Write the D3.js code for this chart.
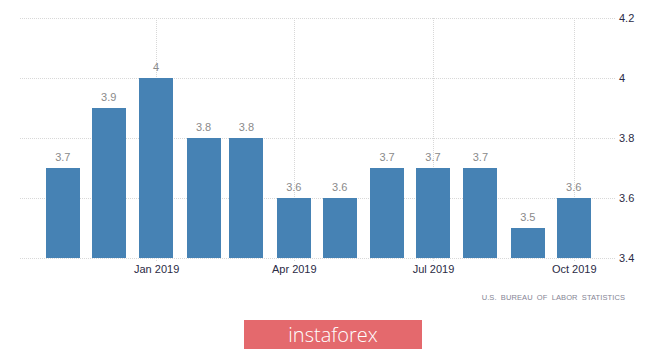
<!DOCTYPE html>
<html>
<head>
<meta charset="utf-8">
<script src="https://cdn.jsdelivr.net/npm/d3@7"></script>
<style>
  body { margin: 0; background: #fff; }
  svg { display: block; font-family: 'Liberation Sans', Arial, sans-serif; }
</style>
</head>
<body>
<svg></svg>
<script>
const [svgWidth, svgHeight] = [665, 351];

// data
const months = ['2018-11', '2018-12', '2019-01', '2019-02', '2019-03', '2019-04',
  '2019-05', '2019-06', '2019-07', '2019-08', '2019-09', '2019-10'];
const values = [3.7, 3.9, 4, 3.8, 3.8, 3.6, 3.6, 3.7, 3.7, 3.7, 3.5, 3.6];
const xTicks = ['2019-01', '2019-04', '2019-07', '2019-10'];
const yTicks = [3.4, 3.6, 3.8, 4, 4.2];

const parse = d3.timeParse('%Y-%m');
const data = months.map((m, i) => ({ date: parse(m), value: values[i] }));

const svg = d3.select('svg')
  .attr('width', svgWidth)
  .attr('height', svgHeight);

const plot = { left: 20, right: 615, top: 18, bottom: 258 };
const barWidth = 34;

const x = d3.scaleTime()
  .domain([new Date(2018, 9, 4), new Date(2019, 9, 28)])
  .range([plot.left, plot.right]);
const y = d3.scaleLinear()
  .domain([3.4, 4.2])
  .range([plot.bottom, plot.top]);

// grid
svg.append('g')
  .selectAll('line')
  .data(yTicks)
  .join('line')
  .attr('x1', plot.left)
  .attr('x2', plot.right)
  .attr('y1', d => y(d) + 0.5)
  .attr('y2', d => y(d) + 0.5)
  .attr('stroke', '#d8d8d8')
  .attr('stroke-dasharray', '1,1');

svg.append('g')
  .selectAll('line')
  .data(xTicks.map(parse))
  .join('line')
  .attr('x1', d => Math.round(x(d)) + 0.5)
  .attr('x2', d => Math.round(x(d)) + 0.5)
  .attr('y1', plot.top)
  .attr('y2', plot.bottom + 4)
  .attr('stroke', '#d8d8d8')
  .attr('stroke-dasharray', '1,1');

// bars
svg.append('g')
  .selectAll('rect')
  .data(data)
  .join('rect')
  .attr('x', d => Math.round(x(d.date) - barWidth / 2))
  .attr('y', d => y(d.value))
  .attr('width', barWidth)
  .attr('height', d => y(3.4) - y(d.value))
  .attr('fill', '#4682b4');

svg.append('g')
  .selectAll('text')
  .data(data)
  .join('text')
  .attr('x', d => x(d.date))
  .attr('y', d => y(d.value) - 7)
  .attr('text-anchor', 'middle')
  .attr('font-size', 11)
  .attr('fill', '#8a8a8a')
  .text(d => d.value);

// axes
const xAxis = svg.append('g')
  .attr('transform', `translate(0, ${plot.bottom})`)
  .call(d3.axisBottom(x)
    .tickValues(xTicks.map(parse))
    .tickFormat(d3.timeFormat('%b %Y'))
    .tickSize(0)
    .tickPadding(7));
xAxis.select('.domain').remove();
xAxis.selectAll('text')
  .attr('font-family', null)
  .attr('font-size', 11)
  .attr('fill', '#2b2b45');

const yAxis = svg.append('g')
  .attr('transform', `translate(${plot.right}, 0)`)
  .call(d3.axisRight(y)
    .tickValues(yTicks)
    .tickFormat(d => d)
    .tickSize(0)
    .tickPadding(4));
yAxis.select('.domain').remove();
yAxis.selectAll('text')
  .attr('font-family', null)
  .attr('font-size', 11)
  .attr('fill', '#2b2b45');

// source
svg.append('text')
  .attr('x', 625)
  .attr('y', 300)
  .attr('text-anchor', 'end')
  .attr('font-size', 7.5)
  .attr('letter-spacing', 0.1)
  .attr('word-spacing', 2)
  .attr('fill', '#858595')
  .text('U.S. BUREAU OF LABOR STATISTICS');

// logo
const logo = svg.append('g');
logo.append('rect')
  .attr('x', 244)
  .attr('y', 320)
  .attr('width', 178)
  .attr('height', 29)
  .attr('fill', '#e4696d');
logo.append('text')
  .attr('x', 333)
  .attr('y', 342)
  .attr('text-anchor', 'middle')
  .attr('font-family', "'Open Sans', sans-serif")
  .attr('font-weight', 300)
  .attr('font-size', 20)
  .attr('fill', '#fff')
  .text('instaforex');
</script>
</body>
</html>
